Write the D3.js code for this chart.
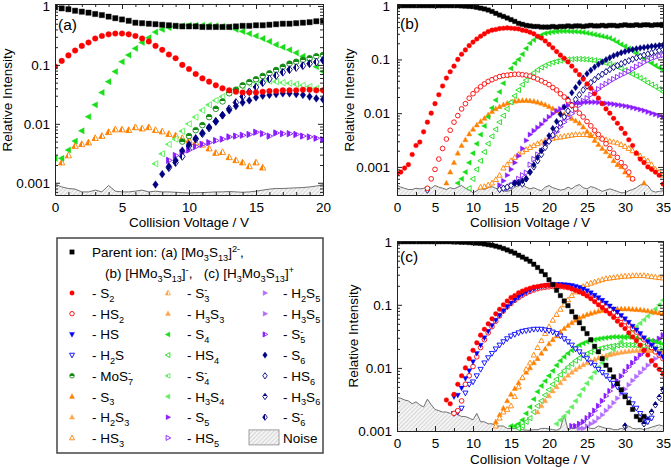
<!DOCTYPE html>
<html><head><meta charset="utf-8">
<script src="https://cdn.jsdelivr.net/npm/d3@7"></script>
<style>body{margin:0;background:#fff}svg{display:block}text{font-family:"Liberation Sans",Arial,sans-serif}</style>
</head><body><svg id="c" width="671" height="470"></svg>
<script>
const STEP = 0.5;
const xTicksA = [0,5,10,15,20];
const xTicksBC = [0,5,10,15,20,25,30,35];
const yTickVals = [1,0.1,0.01,0.001];
const yTickLabels = ["1","0.1","0.01","0.001"];

// ---------- panel (a) [Mo3S13]2- ----------
const a_parent = [0.95,0.91,0.88,0.83,0.8,0.77,0.73,0.7,0.66,0.62,0.59,0.56,0.52,0.51,0.5,0.49,0.48,0.47,0.46,0.45,0.45,0.45,0.44,0.44,0.44,0.44,0.44,0.45,0.46,0.46,0.47,0.47,0.48,0.49,0.5,0.5,0.51,0.52,0.53,0.55,0.56];
const a_S2 = [0.094,0.117,0.145,0.175,0.21,0.24,0.28,0.31,0.33,0.34,0.34,0.33,0.31,0.28,0.25,0.21,0.18,0.15,0.13,0.1,0.085,0.07,0.059,0.052,0.045,0.04,0.037,0.035,0.034,0.034,0.034,0.035,0.036,0.036,0.037,0.037,0.037,0.038,0.038,0.037,0.037];
const a_S4 = [0.0026,0.0026,0.0036,0.0051,0.0076,0.0132,0.021,0.034,0.052,0.077,0.113,0.147,0.19,0.24,0.29,0.36,0.40,0.43,0.45,0.46,0.47,0.47,0.47,0.47,0.46,0.45,0.44,0.40,0.37,0.34,0.31,0.28,0.25,0.22,0.2,0.18,0.16,0.14,0.12,0.093,0.077];
const a_S3m = [0.0022,0.0029,0.0042,0.0045,0.0048,0.0057,0.0062,0.0072,0.008,0.008,0.0078,0.0087,0.0083,0.0087,0.0078,0.0074,0.0067,0.0063,0.0057,0.0053,0.0048,0.0044,0.0038,0.0032,0.0033,0.0027,0.0024,0.0022,0.0019,0.0022,0.0018];
const a_MoS7m = [0.005,0.0062,0.0078,0.0095,0.013,0.018,0.024,0.033,0.038,0.045,0.051,0.057,0.065,0.072,0.082,0.093,0.105,0.113,0.122,0.13,0.14,0.147];
const a_S4m = [0.0021,0.0031,0.0045,0.0055,0.0075,0.01,0.013,0.017,0.021,0.025,0.029,0.034,0.038,0.043,0.048,0.051,0.053,0.053,0.052,0.05,0.049,0.047,0.045,0.043,0.04,0.037];
const a_S6 = [0.00093,0.0014,0.0019,0.0024,0.0035,0.0045,0.0057,0.007,0.0088,0.011,0.014,0.017,0.02,0.023,0.025,0.028,0.03,0.031,0.032,0.033,0.033,0.032,0.031,0.029,0.027,0.026];
const a_S6m = [0.0018,0.0022,0.0028,0.0042,0.0055,0.0068,0.0085,0.011,0.014,0.018,0.023,0.029,0.035,0.042,0.05,0.058,0.066,0.075,0.083,0.09,0.097,0.105,0.112,0.12];
const a_S5m = [0.0024,0.0029,0.0033,0.0036,0.0041,0.0045,0.0048,0.0052,0.0055,0.006,0.0062,0.0064,0.0066,0.0072,0.0068,0.0062,0.007,0.0068,0.0068,0.0066,0.0062,0.006,0.0057,0.0054];
const a_noise = [0.00095,0.00085,0.0008,0.00078,0.0007,0.0007,0.00075,0.0007,0.0009,0.00072,0.0007,0.0007,0.00072,0.00075,0.0007,0.00072,0.0007,0.0007,0.00069,0.00068,0.00067,0.00068,0.00068,0.00069,0.0007,0.0007,0.00071,0.0007,0.00069,0.0007,0.00072,0.00075,0.00078,0.0008,0.0008,0.00081,0.00082,0.00083,0.00085,0.00088,0.00093];

// ---------- panel (b) [HMo3S13]- ----------
const b_parent = [1,1,1,1,1,1,1,1,1,1,1,1,1,1,1,1,1,0.99,0.98,0.97,0.96,0.93,0.9,0.87,0.83,0.78,0.72,0.67,0.63,0.59,0.55,0.51,0.47,0.45,0.43,0.42,0.41,0.41,0.40,0.4,0.4,0.41,0.4,0.41,0.41,0.42,0.41,0.42,0.42,0.41,0.42,0.43,0.42,0.42,0.43,0.42,0.43,0.43,0.42,0.43,0.44,0.43,0.43,0.44,0.43,0.44,0.44,0.43,0.44,0.44,0.44];
const b_S2 = [0.00075,0.0008,0.00095,0.0011,0.0017,0.0025,0.0029,0.0045,0.0068,0.01,0.015,0.022,0.032,0.045,0.059,0.075,0.1,0.125,0.15,0.18,0.21,0.24,0.27,0.3,0.33,0.35,0.36,0.375,0.38,0.385,0.38,0.375,0.37,0.35,0.34,0.32,0.3,0.27,0.25,0.22,0.19,0.165,0.14,0.12,0.105,0.09,0.075,0.062,0.052,0.043,0.035,0.029,0.023,0.019,0.015,0.012,0.01,0.008,0.0065,0.0052,0.0042,0.0032,0.0025,0.0018,0.0014,0.0012,0.001,0.0009,0.0008,0.0007,0.00048];
const b_HS2 = [0.0004,0.0006,0.0009,0.0014,0.0022,0.0033,0.0048,0.0068,0.009,0.012,0.015,0.019,0.023,0.027,0.031,0.035,0.039,0.042,0.045,0.048,0.05,0.051,0.052,0.053,0.053,0.052,0.051,0.049,0.046,0.043,0.04,0.037,0.034,0.03,0.027,0.023,0.02,0.017,0.014,0.012,0.01,0.0085,0.007,0.0058,0.0048,0.004,0.0033,0.0027,0.0022,0.0018,0.0015,0.0012,0.001,0.0008,0.0006];
const b_S3 = [0.0005,0.0008,0.0012,0.0018,0.0025,0.0032,0.0041,0.005,0.006,0.007,0.008,0.0093,0.0107,0.012,0.0132,0.0143,0.0152,0.016,0.0167,0.017,0.0172,0.0172,0.017,0.0166,0.016,0.0152,0.0143,0.0133,0.0122,0.011,0.0102,0.0095,0.0087,0.0079,0.0072,0.0065,0.0055,0.0046,0.0038,0.0031,0.0026,0.0022,0.0019,0.0016,0.0013,0.0011,0.001,0.0008,0.0007,0.0006,null,null,0.0005];
const b_S4 = [0.0005,0.0006,0.0008,0.0012,0.0018,0.0027,0.004,0.0058,0.0085,0.0125,0.0175,0.025,0.036,0.05,0.068,0.085,0.1,0.125,0.16,0.2,0.23,0.26,0.285,0.305,0.315,0.325,0.33,0.335,0.335,0.335,0.33,0.33,0.325,0.32,0.31,0.3,0.29,0.28,0.27,0.26,0.25,0.23,0.21,0.19,0.175,0.16,0.145,0.13,0.117,0.105,0.095,0.085,0.077,0.07,0.064];
const b_HS4 = [0.0004,0.0006,0.0009,0.0013,0.0019,0.0027,0.0037,0.005,0.0068,0.009,0.012,0.016,0.021,0.027,0.034,0.041,0.048,0.056,0.064,0.071,0.077,0.083,0.088,0.092,0.095,0.098,0.1,0.101,0.102,0.102,0.101,0.1,0.098,0.096,0.093,0.09,0.086,0.082,0.078,0.073,0.068,0.063,0.058,0.053,0.049,0.045,0.041,0.037,0.034,0.031,0.028,0.025];
const b_HS3 = [0.00042,0.00043,0.00046,0.0005,0.00058,0.0007,0.00095,0.0011,0.0013,0.0015,0.0017,0.0019,0.0021,0.0023,0.0025,0.0027,0.0029,0.0031,0.0032,0.0034,0.0035,0.0036,0.0037,0.0038,0.0039,0.004,0.004,0.004,0.004,0.0039,0.0038,0.0036,0.0034,0.0032,0.003,0.0029,0.0028,0.0026,0.0024,0.0022,0.002,0.0018,0.0016,0.0014,0.0013,0.0011,0.0009,0.0008,0.0007];
const b_S5 = [0.00046,0.00055,0.0007,0.0009,0.0012,0.0016,0.0022,0.0031,0.004,0.0047,0.0054,0.0062,0.0073,0.0085,0.0097,0.011,0.012,0.013,0.014,0.0147,0.0152,0.0155,0.0158,0.016,0.016,0.016,0.0158,0.0156,0.0153,0.015,0.0147,0.0143,0.014,0.0136,0.0132,0.0127,0.0122,0.0117,0.0112,0.0106,0.01,0.0095,0.009,0.0085];
const b_HS5 = [0.0004,0.00045,0.0005,0.0006,0.0007,0.00078,0.0011,0.0014,0.0017,0.002,0.0025,0.003,0.0037,0.0045,0.0056,0.0068,0.0082,0.0098,0.0115,0.014,0.017,0.019,0.022,0.025,0.028,0.032,0.035,0.039,0.043,0.047,0.051,0.055,0.06,0.066,0.073,0.08,0.088,0.096,0.104,0.11,0.116,0.12];
const b_S6 = [0.0005,0.0005,0.00055,0.0006,0.0008,0.0011,0.0015,0.002,0.0028,0.0038,0.0052,0.007,0.0095,0.013,0.018,0.024,0.03,0.037,0.045,0.054,0.063,0.072,0.081,0.09,0.099,0.108,0.117,0.125,0.133,0.14,0.147,0.153,0.158,0.163,0.167,0.171,0.175,0.178,0.181,0.184];
const b_HS6 = [0.00037,null,null,null,null,null,null,null,null,null,null,null,null,null,null,null,null,null,null,0.00038,0.0004,0.00042,0.00045,0.0005,0.00052,0.00048,0.0006,0.0008,0.001,0.0013,0.0017,0.0023,0.003,0.0039,0.005,0.0065,0.0085,0.011,0.014,0.018,0.022,0.027,0.032,0.037,0.042,0.048,0.053,0.059,0.065,0.071,0.077,0.083,0.089,0.095,0.101,0.107,0.113,0.12,0.126,0.133,0.14,0.147,0.153];
const b_noise = [0.00046,0.00042,0.0004,0.00038,0.00038,0.0004,0.00039,0.0004,0.00043,0.0004,0.00045,0.00042,0.0004,0.00038,0.00041,0.00039,0.00042,0.00045,0.0004,0.00037,0.00033,0.00036,0.0004,0.00038,0.00041,0.00043,0.0004,0.00038,0.00036,0.00035,0.00037,0.00042,0.00045,0.00047,0.00042,0.00039,0.00041,0.00038,0.00036,0.00042,0.00045,0.00041,0.00039,0.00037,0.00038,0.00042,0.00039,0.00044,0.00047,0.00041,0.00039,0.00043,0.00041,0.00038,0.00035,0.00037,0.00039,0.00037,0.00035,0.00033,0.00033,0.00036,0.00038,0.00041,0.00046,0.00048,0.00045,0.00036,0.00034,0.00035,0.00036];

// ---------- panel (c) [H3Mo3S13]+ ----------
const c_parent = [1,1,1,1,1,1,1,1,1,1,1,1,1,1,1,0.99,0.99,0.98,0.98,0.97,0.96,0.95,0.94,0.92,0.9,0.88,0.85,0.82,0.78,0.74,0.7,0.66,0.61,0.57,0.53,0.49,0.44,0.39,0.34,0.3,0.25,0.21,0.17,0.14,0.115,0.097,0.078,0.064,0.052,0.042,0.035,0.028,0.022,0.018,0.014,0.011,0.0093,0.0072,0.0056,0.0045,0.0035,0.0028,0.0022,0.0017,0.0015,0.0017];
const c_S2 = [0.0031,0.0027,0.0038,0.0055,0.0075,0.01,0.014,0.019,0.025,0.033,0.041,0.05,0.06,0.072,0.085,0.1,0.115,0.13,0.14,0.155,0.165,0.175,0.183,0.19,0.195,0.2,0.203,0.205,0.205,0.203,0.2,0.195,0.19,0.18,0.17,0.16,0.15,0.138,0.125,0.112,0.1,0.09,0.08,0.072,0.063,0.055,0.048,0.042,0.036,0.031,0.027,0.023,0.019,0.016,0.013,0.011,0.0095,0.008];
const c_HS2 = [0.0019,0.0021,0.003,0.0055,0.0075,0.0105,0.015,0.021,0.028,0.036,0.045,0.055,0.067,0.08,0.093,0.105,0.118,0.13,0.142,0.153,0.163,0.172,0.18,0.186,0.19,0.193,0.195,0.196,0.195,0.192,0.187,0.18,0.172,0.163,0.153,0.143,0.133,0.122,0.112,0.102,0.093,0.084,0.076,0.068,0.061,0.054,0.048,0.042,0.037,0.032,0.028,0.024,0.021,0.018,0.016,0.014];
const c_HS = [0.0035,0.0037,0.0048,0.0068,0.009,0.0125,0.017,0.023,0.03,0.038,0.047,0.057,0.068,0.08,0.093,0.106,0.12,0.133,0.146,0.158,0.169,0.179,0.188,0.195,0.2,0.205,0.208,0.21,0.21,0.209,0.206,0.202,0.196,0.188,0.178,0.167,0.155,0.142,0.13,0.118,0.107,0.096,0.086,0.077,0.068,0.06,0.053,0.046,0.04,0.035,0.03,0.026,0.023,0.02,0.017,0.015];
const c_H2S = [0.0019,0.002,0.0023,0.004,0.0055,0.006,0.0075,0.0095,0.012,0.0145,0.017,0.02,0.023,0.026,0.029,0.032,0.034,0.036,0.038,0.039,0.04,0.041,0.041,0.041,0.04,0.039,0.037,0.035,0.032,0.029,0.026,0.023,0.02,0.018,0.016,0.014,0.012,0.011,0.0095,0.0085,0.0075,0.0066,0.0057,0.005,0.0043,0.0037,0.0032,0.0027,0.0023,0.0019,0.0016,0.0014,0.0016];
const c_HS3 = [0.0012,0.0016,0.002,0.0022,0.0025,0.0035,0.005,0.007,0.0095,0.012,0.016,0.021,0.027,0.035,0.045,0.057,0.07,0.085,0.1,0.12,0.14,0.16,0.18,0.195,0.21,0.22,0.23,0.24,0.25,0.26,0.265,0.27,0.275,0.28,0.285,0.285,0.29,0.29,0.29,0.29,0.285,0.28,0.275,0.27,0.265];
const c_H2S3 = [0.0014,0.0018,0.0023,0.003,0.0038,0.0047,0.0058,0.007,0.0085,0.01,0.012,0.014,0.017,0.02,0.024,0.028,0.032,0.037,0.042,0.047,0.052,0.057,0.062,0.066,0.07,0.073,0.076,0.079,0.081,0.083,0.084,0.085,0.086,0.086,0.086,0.086,0.085,0.084,0.083,0.082,0.08,0.078,0.076,0.074,0.072];
const c_H3S3 = [0.002,0.0025,0.003,0.0036,0.0043,0.005,0.0058,0.0067,0.0076,0.0085,0.0094,0.0103,0.0112,0.012,0.0128,0.0136,0.0143,0.015,0.0156,0.0162,0.0167,0.0172,0.0176,0.018,0.0183,0.0186,0.0188,0.0189,0.019,0.0189,0.0187,0.0184,0.018,0.0176];
const c_S4 = [0.0012,0.0012,0.0013,0.0015,0.0019,0.0024,0.0032,0.0042,0.0052,0.0062,0.0075,0.009,0.011,0.013,0.015,0.017,0.019,0.021,0.023,0.0245,0.026,0.027,0.028,0.0288,0.0295,0.03,0.0305,0.031,0.031,0.031,0.031,0.0308,0.0305,0.03,0.0295,0.029,0.028,0.027,0.026,0.025,0.024];
const c_HS4 = [0.0011,0.0012,0.0014,0.0016,0.002,0.0025,0.003,0.0037,0.0045,0.0055,0.0066,0.0078,0.009,0.0103,0.0116,0.013,0.0143,0.0156,0.0168,0.0179,0.0189,0.0198,0.0206,0.0213,0.0219,0.0224,0.0228,0.023,0.0231,0.0231,0.023,0.0228,0.0225,0.0221,0.0217,0.0212,0.0207,0.0202,0.0197];
const c_H3S4 = [0.0013,0.0015,0.0017,0.002,0.0024,0.003,0.0037,0.0046,0.0057,0.007,0.0085,0.0102,0.012,0.0142,0.0167,0.0195,0.0225,0.026,0.03,0.034,0.039,0.045,0.051,0.058,0.066,0.075,0.086,0.1,0.118];
const c_H2S5 = [0.0012,0.0012,0.0013,0.0014,0.0016,0.0018,0.0021,0.0025,0.003,0.0036,0.0043,0.0052,0.0062,0.0074,0.0088,0.0104,0.012,0.014,0.016,0.018,0.02,0.023,0.026,0.029,0.033];
const c_H3S5 = [0.0011,0.0011,0.0012,0.0013,0.0014,0.0016,0.0018,0.0021,0.0024,0.0028,0.0033,0.0039,0.0046,0.0054,0.0063,0.0073,0.0084,0.0096,0.011,0.0125,0.014,0.0155,0.017];
const c_H3S6 = [0.0012,null,null,null,null,0.0013,0.0015,0.002,0.0026,0.0034,0.0045];
const c_noise = [0.0034,0.0033,0.0031,0.003,0.0027,0.0029,0.0026,0.0024,0.0032,0.0026,0.0022,0.0021,0.002,0.002,0.0019,0.002,0.0018,0.0017,0.0017,0.0016,0.0015,0.0019,0.0014,0.0014,0.0013,0.0013,0.0012,0.0012,0.0012,0.0011,0.0011,0.0011,0.0011,0.00105,0.00103,0.00103,0.00105,0.00105,0.0011,0.0011,0.00108,0.00105,0.00103,0.0011,0.0018,0.00105,0.0011,0.0011,0.00115,0.0011,0.00115,0.0011,0.0011,0.0012,0.00115,0.0011,0.0011,0.00105,0.00105,0.0011,0.00105,0.0012,0.0011,0.00108,0.0011,0.00105,0.0011,0.00115,0.0012,0.00125,0.0012];

// ---------- styles ----------
const COL = {red:"#ff0000", blue:"#0000ff", navy:"#000080", dgreen:"#138a13", orange:"#ff8000", lorange:"#ffa347",
  green:"#18dd18", lgreen:"#5ef05e", purple:"#8a1cff", lpurple:"#b46cff", black:"#000000"};

const svg = d3.select("#c");
const defs = svg.append("defs");
const pat = defs.append("pattern").attr("id","hatch").attr("width",3).attr("height",3)
  .attr("patternUnits","userSpaceOnUse").attr("patternTransform","rotate(45)");
pat.append("rect").attr("width",3).attr("height",3).attr("fill","#f4f4f4");
pat.append("line").attr("x1",0).attr("y1",0).attr("x2",0).attr("y2",3).attr("stroke","#b4b4b4").attr("stroke-width",0.9);

const gradCache = {};
function halfGrad(color, dir){
  const id = "g" + color.slice(1) + dir;
  if(!gradCache[id]){
    const g = defs.append("linearGradient").attr("id",id)
      .attr("x1",0).attr("y1",0).attr("x2",dir==="L"?1:0).attr("y2",dir==="T"?1:0);
    g.append("stop").attr("offset",0).attr("stop-color",color);
    g.append("stop").attr("offset",0.5).attr("stop-color",color);
    g.append("stop").attr("offset",0.5).attr("stop-color","#fff");
    g.append("stop").attr("offset",1).attr("stop-color","#fff");
    gradCache[id]=true;
  }
  return "url(#"+id+")";
}
function shapePath(shape, s){
  switch(shape){
    case "circle": return `M${-s},0a${s},${s} 0 1,0 ${2*s},0a${s},${s} 0 1,0 ${-2*s},0Z`;
    case "square": return `M${-s},${-s}h${2*s}v${2*s}h${-2*s}Z`;
    case "up": return `M0,${-s*1.1}L${s},${s*0.75}L${-s},${s*0.75}Z`;
    case "down": return `M0,${s*1.1}L${s},${-s*0.75}L${-s},${-s*0.75}Z`;
    case "left": return `M${-s*1.1},0L${s*0.75},${-s}L${s*0.75},${s}Z`;
    case "right": return `M${s*1.1},0L${-s*0.75},${-s}L${-s*0.75},${s}Z`;
    case "diamond": return `M0,${-s*1.25}L${s*0.9},0L0,${s*1.25}L${-s*0.9},0Z`;
  }
}
function fillOf(color, mode){
  if(mode==="open") return "#fff";
  if(mode==="halfT") return halfGrad(color,"T");
  if(mode==="halfL") return halfGrad(color,"L");
  return color;
}
function drawMarker(g, px, py, st, s){
  g.append("path").attr("transform",`translate(${px},${py})`)
    .attr("d", shapePath(st.shape, st.shape==="circle"? s*0.9 : st.shape==="square"? s*0.85 : s))
    .attr("fill", fillOf(COL[st.color], st.mode))
    .attr("stroke", COL[st.color]).attr("stroke-width", st.mode==="filled"?0.4:0.9);
}

function toPoints(arr, start){ return arr.map((v,i)=>({v:start+i*STEP, i:v})).filter(d=>d.i!==null); }

function richText(sel, str, x, y, size){
  const t = sel.append("text").attr("x",x).attr("y",y).attr("font-size",size).style("white-space","pre").attr("fill","#000");
  const re = /_\{([^}]*)\}|\^\{([^}]*)\}|([^_^]+)/g;
  let m, state=0, lastSub=null; const ss = size*0.68;
  while((m=re.exec(str))){
    if(m[3]!==undefined){ const dy = state===1?-3.8:state===2?4.8:0; t.append("tspan").attr("dy",dy).text(m[3]); state=0; }
    else if(m[1]!==undefined){ const dy = state===0?3.8:state===2?8.6:0; lastSub=t.append("tspan").attr("dy",dy).attr("font-size",ss).text(m[1]); state=1; }
    else { const dy = state===0?-4.8:state===1?-8.6:0; const ts=t.append("tspan").attr("dy",dy).attr("font-size",ss).text(m[2]);
      if(state===1 && lastSub) ts.attr("dx", -lastSub.node().getComputedTextLength()); state=2; }
  }
  return t;
}

let clipN = 0;
function panel(cfg){
  const x = d3.scaleLinear().domain([0,cfg.xMax]).range([cfg.x0,cfg.x1]);
  const y = d3.scaleLog().domain(cfg.yDom).range([cfg.y1,cfg.y0]);
  const cid = "clip"+(clipN++);
  defs.append("clipPath").attr("id",cid).append("rect").attr("x",cfg.x0).attr("y",cfg.y0)
    .attr("width",cfg.x1-cfg.x0).attr("height",cfg.y1-cfg.y0);
  const g = svg.append("g").attr("clip-path",`url(#${cid})`);
  const nd = toPoints(cfg.noise, 0);
  g.append("path").datum(nd).attr("fill","url(#hatch)")
    .attr("d", d3.area().x(d=>x(d.v)).y0(cfg.y1).y1(d=>y(d.i)));
  g.append("path").datum(nd).attr("fill","none").attr("stroke","#707070").attr("stroke-width",1)
    .attr("d", d3.line().x(d=>x(d.v)).y(d=>y(d.i)));
  cfg.series.forEach(st=>{
    toPoints(st.data, st.start).forEach(d=> drawMarker(g, x(d.v), y(d.i), st, cfg.ms));
  });
  const fs = 13.5;
  const styleAx = a => { a.attr("font-family",'"Liberation Sans",Arial,sans-serif').attr("font-size",fs);
    a.selectAll("line").attr("stroke","#222"); a.selectAll("path").attr("stroke","#222"); a.selectAll("text").attr("fill","#000"); };
  const minorX = d3.range(0, cfg.xMax+0.001, cfg.xMinor).filter(v=>!cfg.xTicks.includes(v));
  const lo = cfg.yDom[0], hi = cfg.yDom[1];
  const minorY = [];
  for(let e=-4;e<=0;e++) for(let k=2;k<=9;k++){ const v=k*Math.pow(10,e); if(v>lo && v<hi) minorY.push(v); }
  const bx = svg.append("g").attr("transform",`translate(0,${cfg.y1})`)
    .call(d3.axisBottom(x).tickValues(cfg.xTicks).tickFormat(d3.format("d")).tickSize(-5).tickSizeOuter(0).tickPadding(7)); styleAx(bx);
  const bxm = svg.append("g").attr("transform",`translate(0,${cfg.y1})`).call(d3.axisBottom(x).tickValues(minorX).tickFormat("").tickSize(-3)); styleAx(bxm); bxm.select(".domain").remove();
  const tx = svg.append("g").attr("transform",`translate(0,${cfg.y0})`).call(d3.axisTop(x).tickValues(cfg.xTicks).tickFormat("").tickSize(-5).tickSizeOuter(0)); styleAx(tx);
  const txm = svg.append("g").attr("transform",`translate(0,${cfg.y0})`).call(d3.axisTop(x).tickValues(minorX).tickFormat("").tickSize(-3)); styleAx(txm); txm.select(".domain").remove();
  const ly = svg.append("g").attr("transform",`translate(${cfg.x0},0)`)
    .call(d3.axisLeft(y).tickValues(yTickVals).tickFormat((d,i)=>yTickLabels[i]).tickSize(-5).tickSizeOuter(0).tickPadding(cfg.yPad)); styleAx(ly);
  const lym = svg.append("g").attr("transform",`translate(${cfg.x0},0)`).call(d3.axisLeft(y).tickValues(minorY).tickFormat("").tickSize(-3)); styleAx(lym); lym.select(".domain").remove();
  const ry = svg.append("g").attr("transform",`translate(${cfg.x1},0)`).call(d3.axisRight(y).tickValues(yTickVals).tickFormat("").tickSize(-5).tickSizeOuter(0)); styleAx(ry);
  const rym = svg.append("g").attr("transform",`translate(${cfg.x1},0)`).call(d3.axisRight(y).tickValues(minorY).tickFormat("").tickSize(-3)); styleAx(rym); rym.select(".domain").remove();
  svg.append("text").attr("x",(cfg.x0+cfg.x1)/2).attr("y",cfg.titleY).attr("text-anchor","middle").attr("font-size",13.5).text("Collision Voltage / V");
  svg.append("text").attr("transform",`translate(${cfg.ylabX},${cfg.ylabY}) rotate(-90)`).attr("text-anchor","middle").attr("font-size",13.5).text("Relative Intensity");
  svg.append("text").attr("x",cfg.labX).attr("y",cfg.labY).attr("font-size",15.5).text(cfg.label);
}

const S = (data,start,color,shape,mode)=>({data,start,color,shape,mode});

panel({x0:55,x1:323,y0:4,y1:195,xMax:20,yDom:[0.00062,1.08],xTicks:xTicksA,xMinor:1,ms:3.1,yPad:5,
  noise:a_noise, label:"(a)", labX:58, labY:30, ylabX:12, ylabY:100, titleY:227,
  series:[S(a_S3m,0.5,"orange","up","halfL"), S(a_S4,0,"green","left","filled"), S(a_S4m,7.5,"lgreen","left","halfL"),
    S(a_MoS7m,9.5,"dgreen","circle","halfT"), S(a_S5m,8.5,"purple","right","halfL"), S(a_S6m,8.5,"navy","diamond","halfL"),
    S(a_S6,7.5,"navy","diamond","filled"), S(a_S2,0,"red","circle","filled"), S(a_parent,0,"black","square","filled")]});

panel({x0:397,x1:663,y0:4,y1:195,xMax:35,yDom:[0.0003,1.075],xTicks:xTicksBC,xMinor:2.5,ms:2.6,yPad:7,
  noise:b_noise, label:"(b)", labX:400, labY:29, ylabX:354, ylabY:100, titleY:227,
  series:[S(b_HS3,11,"orange","up","open"), S(b_S3,6.5,"orange","up","filled"), S(b_HS4,9.5,"green","left","open"),
    S(b_S4,8,"green","left","filled"), S(b_HS5,14.5,"purple","right","open"), S(b_S5,13.5,"purple","right","filled"),
    S(b_HS6,4,"navy","diamond","open"), S(b_S6,15.5,"navy","diamond","filled"), S(b_HS2,4,"red","circle","open"),
    S(b_S2,0,"red","circle","filled"), S(b_parent,0,"black","square","filled")]});

panel({x0:397,x1:663,y0:241,y1:431,xMax:35,yDom:[0.001,1.026],xTicks:xTicksBC,xMinor:2.5,ms:2.6,yPad:5,
  noise:c_noise, label:"(c)", labX:400, labY:262, ylabX:358, ylabY:336, titleY:464,
  series:[S(c_H3S6,30,"navy","diamond","halfT"), S(c_H3S5,24,"lpurple","right","filled"), S(c_H2S5,23,"purple","right","halfL"),
    S(c_H3S4,21,"lgreen","left","filled"), S(c_HS4,16,"green","left","open"), S(c_S4,15,"green","left","filled"),
    S(c_H3S3,18.5,"lorange","up","filled"), S(c_H2S3,13,"orange","up","filled"), S(c_HS3,13,"orange","up","open"),
    S(c_H2S,7.5,"blue","down","open"), S(c_HS2,7.5,"red","circle","open"), S(c_HS,7.5,"blue","down","filled"),
    S(c_S2,6.5,"red","circle","filled"), S(c_parent,0,"black","square","filled")]});

// ---------- legend ----------
const legendCol1 = ["- S_{2}","- HS_{2}","- HS","- H_{2}S","- MoS_{7}^{-}","- S_{3}","- H_{2}S_{3}","- HS_{3}"];
const legendCol2 = ["- S_{3}^{-}","- H_{3}S_{3}","- S_{4}","- HS_{4}","- S_{4}^{-}","- H_{3}S_{4}","- S_{5}","- HS_{5}"];
const legendCol3 = ["- H_{2}S_{5}","- H_{3}S_{5}","- S_{5}^{-}","- S_{6}","- HS_{6}","- H_{3}S_{6}","- S_{6}^{-}"];
const legendStyle1 = [["red","circle","filled"],["red","circle","open"],["blue","down","filled"],["blue","down","open"],["dgreen","circle","halfT"],["orange","up","filled"],["lorange","up","filled"],["orange","up","open"]];
const legendStyle2 = [["lorange","up","halfL"],["lorange","up","filled"],["green","left","filled"],["green","left","open"],["lgreen","left","halfL"],["lgreen","left","filled"],["purple","right","filled"],["purple","right","open"]];
const legendStyle3 = [["lpurple","right","filled"],["lpurple","right","filled"],["purple","right","halfL"],["navy","diamond","filled"],["navy","diamond","open"],["navy","diamond","halfT"],["navy","diamond","halfL"]];

const lg = svg.append("g");
lg.append("rect").attr("x",57).attr("y",238).attr("width",266).attr("height",215).attr("fill","#fff").attr("stroke","#444").attr("stroke-width",1.5);
drawMarker(lg, 72, 252, {color:"black",shape:"square",mode:"filled"}, 2.6);
richText(lg, "Parent ion: (a) [Mo_{3}S_{13}]^{2-},", 92, 257, 13.5);
richText(lg, "(b) [HMo_{3}S_{13}]^{-},   (c) [H_{3}Mo_{3}S_{13}]^{+}", 105, 278, 13.5);
const rowY = i => 293 + i*20.7;
[[legendCol1,legendStyle1,72,92],[legendCol2,legendStyle2,168,187],[legendCol3,legendStyle3,265,283]].forEach(([labs,sts,mx,tx])=>{
  labs.forEach((lab,i)=>{
    const st = sts[i];
    drawMarker(lg, mx, rowY(i), {color:st[0],shape:st[1],mode:st[2]}, 2.5);
    richText(lg, lab, tx, rowY(i)+5, 13.5);
  });
});
lg.append("rect").attr("x",249).attr("y",rowY(7)-8).attr("width",30).attr("height",15).attr("fill","url(#hatch)").attr("stroke","#888").attr("stroke-width",0.8);
lg.append("text").attr("x",283).attr("y",rowY(7)+5).attr("font-size",13.5).text("Noise");
</script></body></html>
